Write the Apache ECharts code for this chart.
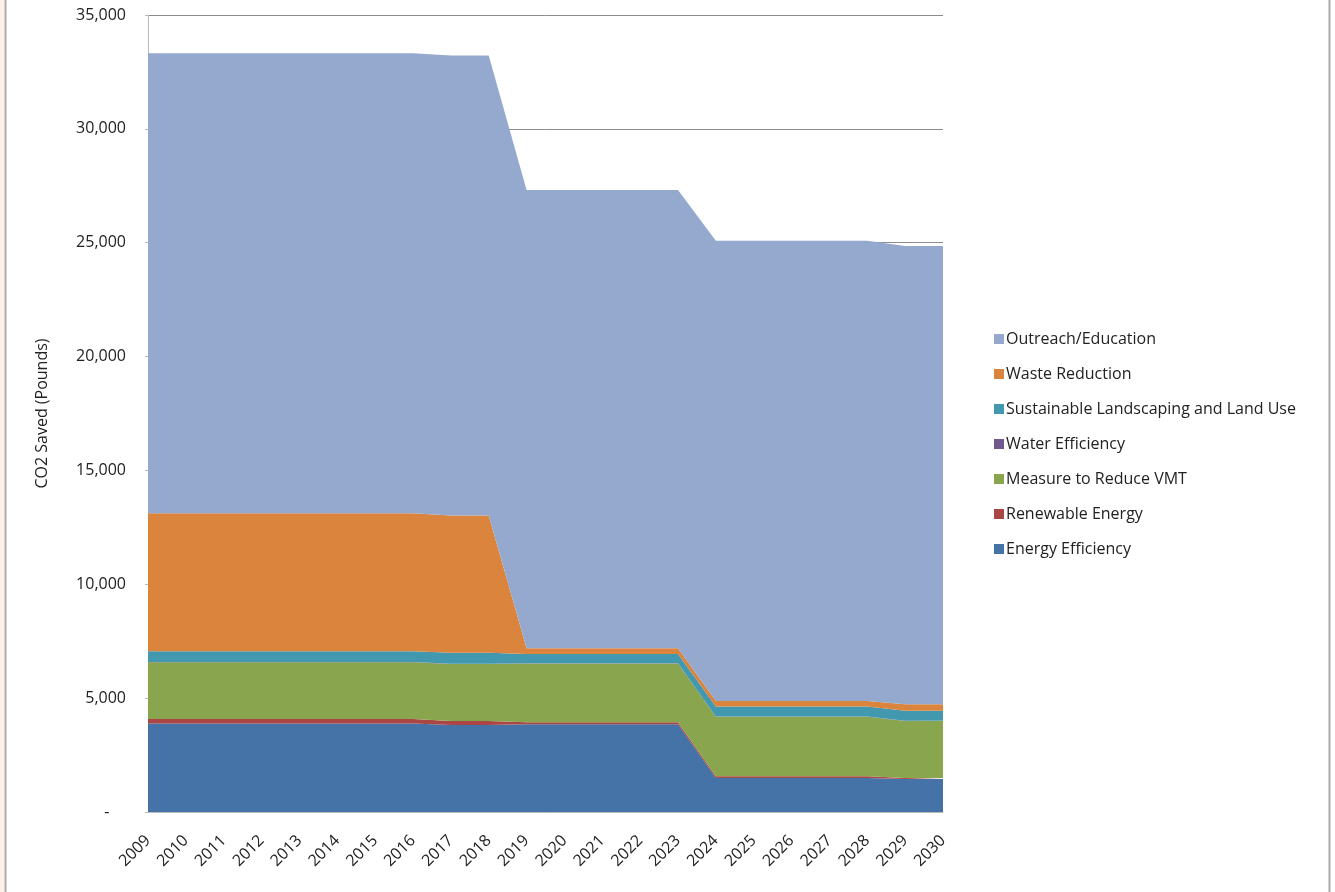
<!DOCTYPE html>
<html>
<head>
<meta charset="utf-8">
<script src="https://cdn.jsdelivr.net/npm/echarts@6/dist/echarts.min.js"></script>
<style>
  html, body { margin: 0; padding: 0; background: #fff; }
  #chart { width: 1335px; height: 892px; }
</style>
</head>
<body>
<div id="chart"></div>
<script>
const years = ["2009", "2010", "2011", "2012", "2013", "2014", "2015", "2016", "2017", "2018", "2019",
  "2020", "2021", "2022", "2023", "2024", "2025", "2026", "2027", "2028", "2029", "2030"];

// values (pounds of CO2 saved)
const energyEfficiency = [3890, 3890, 3890, 3890, 3890, 3890, 3890, 3890, 3820, 3820, 3850,
  3850, 3850, 3850, 3850, 1490, 1490, 1490, 1490, 1490, 1450, 1450];
const renewableEnergy = [190, 190, 190, 190, 190, 190, 190, 190, 180, 180, 90,
  90, 90, 90, 90, 80, 80, 80, 80, 80, 40, 40];
const reduceVMT = [2500, 2500, 2500, 2500, 2500, 2500, 2500, 2500, 2500, 2500, 2580,
  2580, 2580, 2580, 2580, 2610, 2610, 2610, 2610, 2610, 2510, 2510];
const waterEfficiency = [10, 10, 10, 10, 10, 10, 10, 10, 10, 10, 10,
  10, 10, 10, 10, 10, 10, 10, 10, 10, 10, 10];
const landscaping = [470, 470, 470, 470, 470, 470, 470, 470, 480, 480, 410,
  410, 410, 410, 410, 440, 440, 440, 440, 440, 440, 440];
const wasteReduction = [6060, 6060, 6060, 6060, 6060, 6060, 6060, 6060, 6030, 6030, 250,
  250, 250, 250, 250, 240, 240, 240, 240, 240, 280, 280];
const outreach = [20200, 20200, 20200, 20200, 20200, 20200, 20200, 20200, 20200, 20200, 20130,
  20130, 20130, 20130, 20130, 20220, 20220, 20220, 20220, 20220, 20130, 20130];

const yTicks = [0, 5000, 10000, 15000, 20000, 25000, 30000, 35000];

const seriesDefs = [
  ["Energy Efficiency", energyEfficiency, "#4572A7"],
  ["Renewable Energy", renewableEnergy, "#AA4643"],
  ["Measure to Reduce VMT", reduceVMT, "#89A54E"],
  ["Water Efficiency", waterEfficiency, "#71588F"],
  ["Sustainable Landscaping and Land Use", landscaping, "#4198AF"],
  ["Waste Reduction", wasteReduction, "#DB843D"],
  ["Outreach/Education", outreach, "#95A9CE"]
];

const font = "'Open Sans', 'Noto Sans', sans-serif";
const chart = echarts.init(document.getElementById("chart"));

chart.setOption({
  animation: false,
  backgroundColor: "#fff",
  color: seriesDefs.map(d => d[2]),
  grid: { left: 148, right: 392, top: 15, bottom: 80 },
  legend: {
    orient: "vertical",
    left: 989,
    top: 326,
    itemWidth: 10,
    itemHeight: 10,
    itemGap: 19,
    icon: "rect",
    data: seriesDefs.map(d => d[0]).reverse(),
    textStyle: { fontFamily: font, fontSize: 16, lineHeight: 16, color: "#222", padding: [0, 0, 0, -3] }
  },
  xAxis: {
    type: "category",
    data: years,
    boundaryGap: false,
    axisLine: { lineStyle: { color: "#bbb", width: 1 } },
    axisTick: { show: false },
    axisLabel: {
      rotate: 45, margin: 26, interval: 0,
      fontFamily: font, fontSize: 16, color: "#222"
    }
  },
  yAxis: {
    type: "value",
    min: yTicks[0],
    max: yTicks[yTicks.length - 1],
    interval: 5000,
    name: "CO2 Saved (Pounds)",
    nameLocation: "middle",
    nameGap: 98,
    nameTextStyle: { fontFamily: font, fontSize: 16, color: "#222" },
    axisLine: { show: true, lineStyle: { color: "#bbb", width: 1 } },
    axisTick: { show: true, length: 3, lineStyle: { color: "#bbb" } },
    splitLine: { lineStyle: { color: "#8c8c8c", width: 1 } },
    axisLabel: {
      margin: 22,
      fontFamily: font, fontSize: 16, color: "#222",
      formatter: v => (v === 0 ? "-    " : v.toLocaleString("en-US"))
    }
  },
  series: seriesDefs.map(([name, values]) => ({
    name: name,
    type: "line",
    stack: "total",
    data: values,
    showSymbol: false,
    symbol: "none",
    lineStyle: { width: 0 },
    areaStyle: { opacity: 1 },
    z: 3
  })),
  graphic: [
    { type: "rect", shape: { x: 0, y: 0, width: 4, height: 892 }, style: { fill: "#fdf0e4" }, silent: true },
    { type: "line", shape: { x1: 5.5, y1: 0, x2: 5.5, y2: 892 }, style: { stroke: "#aaa", lineWidth: 2 }, silent: true },
    { type: "line", shape: { x1: 1329.5, y1: 0, x2: 1329.5, y2: 892 }, style: { stroke: "#aaa", lineWidth: 2 }, silent: true }
  ]
});
</script>
</body>
</html>
